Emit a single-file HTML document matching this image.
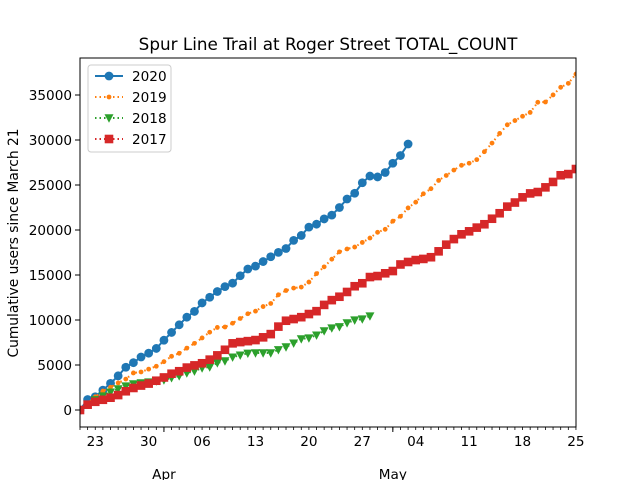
<!DOCTYPE html>
<html><head><meta charset="utf-8"><style>
body{margin:0;background:#fff}
svg text{font-family:"DejaVu Sans","Liberation Sans",sans-serif;fill:#000}
</style></head><body>
<svg id="s" width="640" height="480" xmlns="http://www.w3.org/2000/svg"></svg>
<script>
const NS="http://www.w3.org/2000/svg",s=document.getElementById('s');
function el(t,a,txt){const e=document.createElementNS(NS,t);for(const k in a)e.setAttribute(k,a[k]);if(txt!==undefined)e.textContent=txt;s.appendChild(e);return e;}
const X=d=>80+d*7.63;
function interp(anch,n){const out=[];for(let d=0;d<=n;d++){const x=X(d);let y=anch[0][1];for(let i=0;i<anch.length-1;i++){const a=anch[i],b=anch[i+1];if(x>=a[0]&&x<=b[0]){y=a[1]+(b[1]-a[1])*(x-a[0])/(b[0]-a[0]);break;}if(x>b[0])y=b[1];}out.push([x,y]);}return out;}
const blue=interp([[80,410],[88,399],[95,397],[103,390],[111,383],[118,376],[126,367],[133,363],[141,357],[149,353],[157,348],[165,339],[172,332],[180,324],[187,317],[195,311],[202,303],[210,297],[218,291],[226,286],[233,283],[241,275],[249,268],[256,266],[264,261],[272,256],[279,252],[287,248],[294,240],[302,235],[309,227],[317,224],[324,219],[332,215],[339,208],[347,199],[355,193],[362,183],[370,176],[378,177],[386,172],[393,163],[401,155],[408,144]],43);
const orange=interp([[80,410],[88,403],[95,397],[103,391],[111,387],[118,383],[126,379],[133,373],[141,372],[149,369],[157,366],[165,361],[172,356],[180,353],[187,348],[195,343],[202,338],[210,332],[218,327],[226,327],[233,323],[241,318],[249,313],[256,311],[264,306],[272,303],[279,294],[287,290],[294,288],[302,287],[309,282],[318,272],[324,267],[332,259],[339,252],[347,249],[355,247],[363,242],[370,238],[378,232],[386,229],[393,221],[401,216],[408,208],[416,202],[423,194],[432,188],[439,180],[447,175],[454,170],[462,165],[470,163],[478,159],[485,151],[493,142],[500,133],[508,124],[516,120],[523,116],[531,112],[538,102],[546,102],[553,95],[561,87],[569,83],[576,74]],65);
const green=interp([[80,410],[88,404],[95,400],[103,396],[111,392],[118,389],[126,386],[133,384],[141,383],[149,382],[157,381],[164,380],[171,378],[179,376],[187,373],[195,371],[202,368],[210,367],[217,363],[225,361],[233,357],[241,355],[249,353],[256,353],[264,353],[271,353],[278,350],[286,347],[294,343],[301,339],[309,338],[317,335],[324,331],[332,328],[339,327],[347,323],[355,320],[363,319],[370,316]],38);
const red=interp([[80,410],[83,407],[91,403],[98,401],[106,399],[113,397],[121,394],[128,390],[136,387],[143,385],[151,383],[158,380],[165,377],[173,373],[180,371],[188,367],[196,365],[203,363],[211,359],[218,355],[226,349],[233,343],[241,342],[249,341],[256,340],[264,337],[271,334],[279,326],[287,320],[294,319],[302,317],[309,314],[317,311],[324,305],[332,300],[339,297],[347,292],[355,286],[363,283],[370,277],[378,276],[386,273],[393,271],[401,264],[408,262],[416,260],[423,259],[432,257],[439,251],[447,244],[454,239],[462,234],[470,231],[478,227],[485,224],[493,218],[500,213],[508,206],[516,202],[523,197],[531,193],[538,192],[546,187],[553,182],[561,175],[569,174],[576,169]],65);
el('defs',{}).innerHTML='<clipPath id="c"><rect x="80" y="58" width="496" height="369"/></clipPath>';
const g=el('g',{'clip-path':'url(#c)'});
function series(pts,color,dash,w,mk){const pl=document.createElementNS(NS,'polyline');pl.setAttribute('points',pts.map(p=>p.join(',')).join(' '));pl.setAttribute('fill','none');pl.setAttribute('stroke',color);pl.setAttribute('stroke-width',w);if(dash)pl.setAttribute('stroke-dasharray',dash);g.appendChild(pl);
for(const [x,y] of pts){let m;if(mk=='o'){m=document.createElementNS(NS,'circle');m.setAttribute('cx',x);m.setAttribute('cy',y);m.setAttribute('r',4.4);}else if(mk=='.'){m=document.createElementNS(NS,'circle');m.setAttribute('cx',x);m.setAttribute('cy',y);m.setAttribute('r',2.4);}else if(mk=='v'){m=document.createElementNS(NS,'polygon');m.setAttribute('points',`${x-4.5},${y-3.7} ${x+4.5},${y-3.7} ${x},${y+4.7}`);}else{m=document.createElementNS(NS,'rect');m.setAttribute('x',x-4.3);m.setAttribute('y',y-4.3);m.setAttribute('width',8.6);m.setAttribute('height',8.6);}m.setAttribute('fill',color);g.appendChild(m);}}
series(blue,'#1f77b4',null,2,'o');
series(orange,'#ff7f0e','1.5,3',2,'.');
series(green,'#2ca02c','1.5,3',2,'v');
series(red,'#d62728','1.5,3',2,'s');
el('rect',{x:80,y:58,width:496,height:369,fill:'none',stroke:'#000','stroke-width':1});
for(let k=0;k<=7;k++){const y=410-45*k;el('line',{x1:75,y1:y,x2:80,y2:y,stroke:'#000'});el('text',{x:72,y:y+5,'text-anchor':'end','font-size':'13.6'},String(k*5000));}
for(let d=0;d<=65;d++){const x=X(d);el('line',{x1:x,y1:427,x2:x,y2:430,stroke:'#000','stroke-width':0.8});}
[[11,'Apr'],[41,'May']].forEach(([d,t])=>{const x=X(d);el('line',{x1:x,y1:427,x2:x,y2:432,stroke:'#000'});el('text',{x:x,y:479,'text-anchor':'middle','font-size':'13.6'},t);});
['23','30','06','13','20','27','04','11','18','25'].forEach((t,i)=>{el('text',{x:X(2+7*i),y:446,'text-anchor':'middle','font-size':'13.6'},t);});
el('text',{x:328,y:50,'text-anchor':'middle','font-size':'16.8'},'Spur Line Trail at Roger Street TOTAL_COUNT');
el('text',{x:18,y:243,'text-anchor':'middle','font-size':'13.8',transform:'rotate(-90 18 243)'},'Cumulative users since March 21');
el('rect',{x:88,y:65,width:83,height:87,rx:3,fill:'#fff','fill-opacity':0.8,stroke:'#ccc'});
const lg=[['2020','#1f77b4',null,'o'],['2019','#ff7f0e','1.5,3','.'],['2018','#2ca02c','1.5,3','v'],['2017','#d62728','1.5,3','s']];
lg.forEach(([t,c,dash,mk],i)=>{const y=76+21*i;const a={x1:95,y1:y,x2:123,y2:y,stroke:c,'stroke-width':2};if(dash)a['stroke-dasharray']=dash;el('line',a);const x=109;
if(mk=='o')el('circle',{cx:x,cy:y,r:4.4,fill:c});else if(mk=='.')el('circle',{cx:x,cy:y,r:2.4,fill:c});else if(mk=='v')el('polygon',{points:`${x-4.5},${y-3.7} ${x+4.5},${y-3.7} ${x},${y+4.7}`,fill:c});else el('rect',{x:x-4.3,y:y-4.3,width:8.6,height:8.6,fill:c});
el('text',{x:132,y:y+5,'font-size':'13.6'},t);});
</script>
</body></html>
